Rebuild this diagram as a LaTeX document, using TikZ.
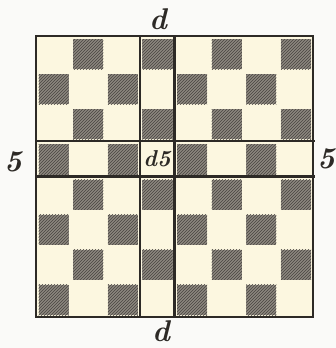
\documentclass[tikz,border=0pt]{standalone}
\usepackage{fontspec}
\usetikzlibrary{patterns}
\definecolor{paper}{RGB}{250,250,248}
\definecolor{boardcream}{RGB}{252,247,224}
\definecolor{inkline}{RGB}{45,42,38}
\definecolor{squaregray}{RGB}{140,135,127}
\definecolor{hatchgray}{RGB}{72,68,64}

\begin{document}
\begin{tikzpicture}[x=1pt,y=-1pt,
    darksq/.style={fill=squaregray, postaction={pattern=north east lines, pattern color=hatchgray}},
    rule/.style={draw=inkline, line width=2.2pt},
    coordlabel/.style={font=\fontsize{30}{30}\selectfont\bfseries\itshape, text=inkline, inner sep=0pt},
    squarelabel/.style={font=\fontsize{23}{23}\selectfont\bfseries\itshape, text=inkline, inner sep=0pt}]
    % page and board
    \fill[paper] (0,0) rectangle (336,348);
    \useasboundingbox (0,0) rectangle (336,348);
    \def\bx{36}\def\by{36}\def\cw{34.625}\def\ch{35.125}
    \fill[boardcream] (\bx,\by) rectangle (313,317);
    % dark squares (a1 dark)
    \foreach \f in {1,...,8} {
        \foreach \r in {1,...,8} {
            \pgfmathtruncatemacro\parity{mod(\f+\r,2)}
            \ifnum\parity=0
                \pgfmathsetmacro\xa{\bx+(\f-1)*\cw+2.5}
                \pgfmathsetmacro\ya{\by+(8-\r)*\ch+3}
                \path[darksq] (\xa,\ya) rectangle ++(\cw-4.5,\ch-5);
            \fi
        }
    }
    % board frame, d-file and 5th rank
    \draw[rule] (\bx,\by) rectangle (313,317);
    \coordinate (dl) at ({\bx+3*\cw},\by);
    \coordinate (dr) at ({\bx+4*\cw},\by);
    \coordinate (rt) at (\bx,{\by+3*\ch});
    \coordinate (rb) at (\bx,{\by+4*\ch});
    \draw[rule] (dl) -- (dl |- 0,317);
    \draw[rule] (dr) -- (dr |- 0,317);
    \draw[rule] (rt) -- (rt -| 315,0);
    \draw[rule] (rb) -- (rb -| 315,0);
    % labels
    \node[coordlabel] (dtop) at (158,19) {d};
    \node[coordlabel] (dbot) at (161,331) {d};
    \node[coordlabel] (fiveL) at (13,162) {5};
    \node[coordlabel] (fiveR) at (326,159) {5};
    \node[squarelabel] (dfive) at (157,159) {d5};
\end{tikzpicture}
\end{document}
